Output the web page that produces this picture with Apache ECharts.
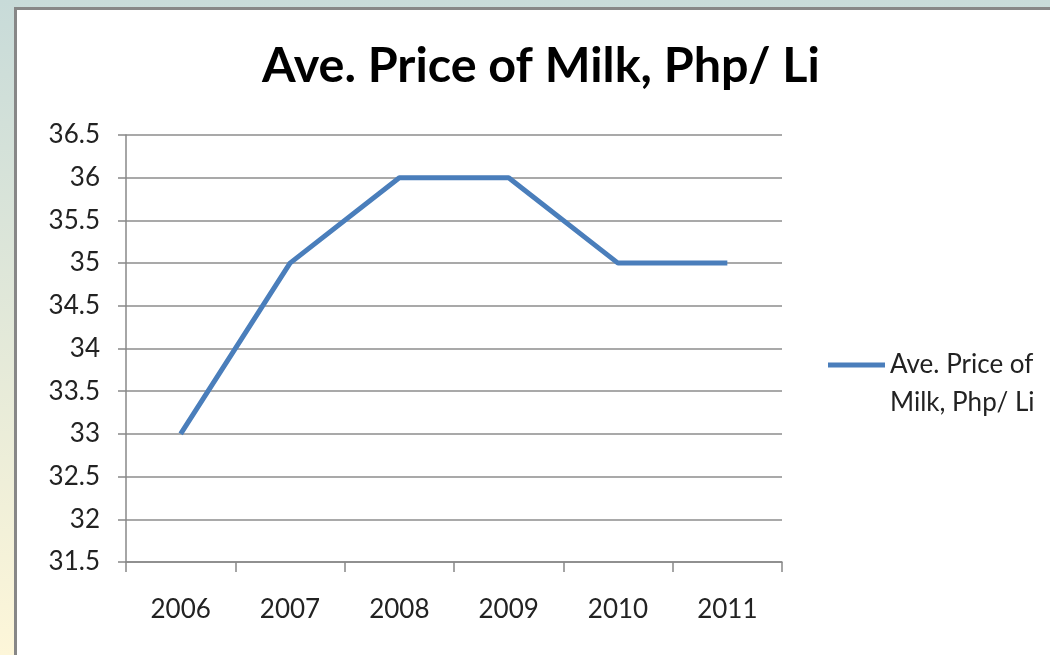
<!DOCTYPE html>
<html>
<head>
<meta charset="utf-8">
<script src="https://cdn.jsdelivr.net/npm/echarts@6/dist/echarts.min.js"></script>
<style>
html,body{margin:0;padding:0;}
#chart{width:1050px;height:655px;}
</style>
</head>
<body>
<div id="chart"></div>
<script>
var titleText = 'Ave. Price of Milk, Php/ Li';
var seriesName = 'Ave. Price of Milk, Php/ Li';
var legendLines = ['Ave. Price of', 'Milk, Php/ Li'];
var categories = ['2006', '2007', '2008', '2009', '2010', '2011'];
var prices = [33, 35, 36, 36, 35, 35];
var yMin = 31.5, yMax = 36.5, yStep = 0.5;

var chart = echarts.init(document.getElementById('chart'));
var FONT = 'Lato';
chart.setOption({
  animation: false,
  graphic: [
    {type: 'rect', z: -10, silent: true, shape: {x: 0, y: 0, width: 1050, height: 655},
     style: {fill: new echarts.graphic.LinearGradient(0, 0, 0, 1, [
       {offset: 0, color: '#c8dbd9'}, {offset: 1, color: '#fdf6d9'}])}},
    {type: 'rect', z: -9, silent: true, shape: {x: 15.5, y: 8.5, width: 1060, height: 660},
     style: {fill: '#ffffff', stroke: '#878787', lineWidth: 3}}
  ],
  title: {
    text: titleText, left: 257, top: 37,
    textStyle: {fontFamily: FONT, fontWeight: 'bold', fontSize: 48.5, color: '#000'}
  },
  legend: {
    show: true, orient: 'vertical', left: 828, top: 308, padding: 0,
    itemWidth: 57, itemHeight: 5, icon: 'rect',
    formatter: function () { return ' \n' + legendLines.join('\n'); },
    textStyle: {fontFamily: FONT, fontSize: 26, color: '#222', lineHeight: 38},
    itemGap: 0
  },
  grid: {left: 126, right: 268, top: 135, bottom: 93},
  xAxis: {
    type: 'category', data: categories, boundaryGap: true,
    axisLine: {lineStyle: {color: '#888', width: 1.5}},
    axisTick: {show: true, length: 10, lineStyle: {color: '#888', width: 1.5}},
    axisLabel: {fontFamily: FONT, fontSize: 26, color: '#222', margin: 35}
  },
  yAxis: {
    type: 'value', min: yMin, max: yMax, interval: yStep,
    axisLine: {show: true, lineStyle: {color: '#888', width: 1.5}},
    axisTick: {show: true, length: 8, lineStyle: {color: '#888', width: 1.5}},
    splitLine: {lineStyle: {color: '#8c8c8c', width: 1.5}},
    axisLabel: {fontFamily: FONT, fontSize: 26, color: '#222', margin: 26}
  },
  series: [{
    name: seriesName, type: 'line', data: prices,
    showSymbol: false, symbol: 'none',
    lineStyle: {color: '#4a7ebb', width: 5},
    itemStyle: {color: '#4a7ebb'}
  }]
});
</script>
</body>
</html>
